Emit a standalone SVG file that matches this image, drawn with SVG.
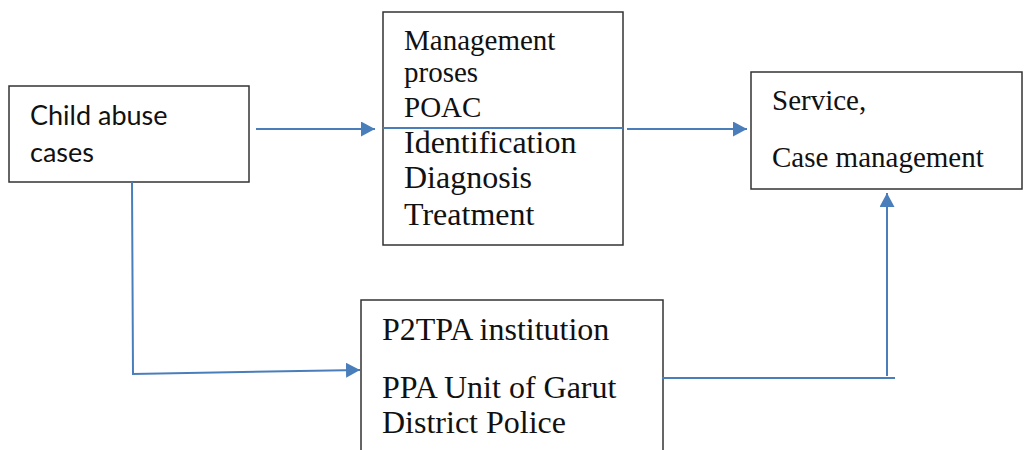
<svg xmlns="http://www.w3.org/2000/svg" width="1024" height="450" viewBox="0 0 1024 450">
<style>
.box{fill:#fff;stroke:#333;stroke-width:1.5}
.conn{fill:none;stroke:#4a7ebb;stroke-width:2}
.serif{font-family:"Liberation Serif","Times New Roman",serif;fill:#111}
.sans{font-family:Lato,"Liberation Sans",sans-serif;fill:#111}
</style>
<defs>
<marker id="arr" markerUnits="userSpaceOnUse" markerWidth="16" markerHeight="16" refX="14" refY="7.5" orient="auto">
<path d="M0,0 L14,7.5 L0,15 z" fill="#4a7ebb"/>
</marker>
</defs>
<rect width="1024" height="450" fill="#fff"/>
<g id="node-child">
<rect class="box" x="9" y="86" width="240" height="96"/>
<text class="sans" x="30" y="125" font-size="27">Child abuse</text>
<text class="sans" x="30" y="162" font-size="27">cases</text>
</g>
<g id="node-management">
<rect class="box" x="383" y="12" width="240" height="233"/>
<text class="serif" x="404" y="50" font-size="29">Management</text>
<text class="serif" x="404" y="82" font-size="29">proses</text>
<text class="serif" x="404" y="117" font-size="29">POAC</text>
<text class="serif" x="404" y="153" font-size="32">Identification</text>
<text class="serif" x="404" y="188" font-size="32">Diagnosis</text>
<text class="serif" x="404" y="225" font-size="32">Treatment</text>
</g>
<g id="node-service">
<rect class="box" x="751" y="72" width="271" height="117"/>
<text class="serif" x="772" y="110" font-size="29">Service,</text>
<text class="serif" x="772" y="167" font-size="29">Case management</text>
</g>
<g id="node-p2tpa">
<rect class="box" x="361" y="300" width="302" height="170"/>
<text class="serif" x="382" y="340" font-size="32">P2TPA institution</text>
<text class="serif" x="382" y="398" font-size="32">PPA Unit of Garut</text>
<text class="serif" x="382" y="433" font-size="32">District Police</text>
</g>
<g id="connectors">
<path class="conn" d="M256,129 L375,129" marker-end="url(#arr)"/>
<path class="conn" d="M383,128 L623,128"/>
<path class="conn" d="M627,129 L747,129" marker-end="url(#arr)"/>
<path class="conn" d="M132,182 L133,374 L360,370" marker-end="url(#arr)"/>
<path class="conn" d="M662,378 L895,378"/>
<path class="conn" d="M887,376 L887,193" marker-end="url(#arr)"/>
</g>
</svg>
